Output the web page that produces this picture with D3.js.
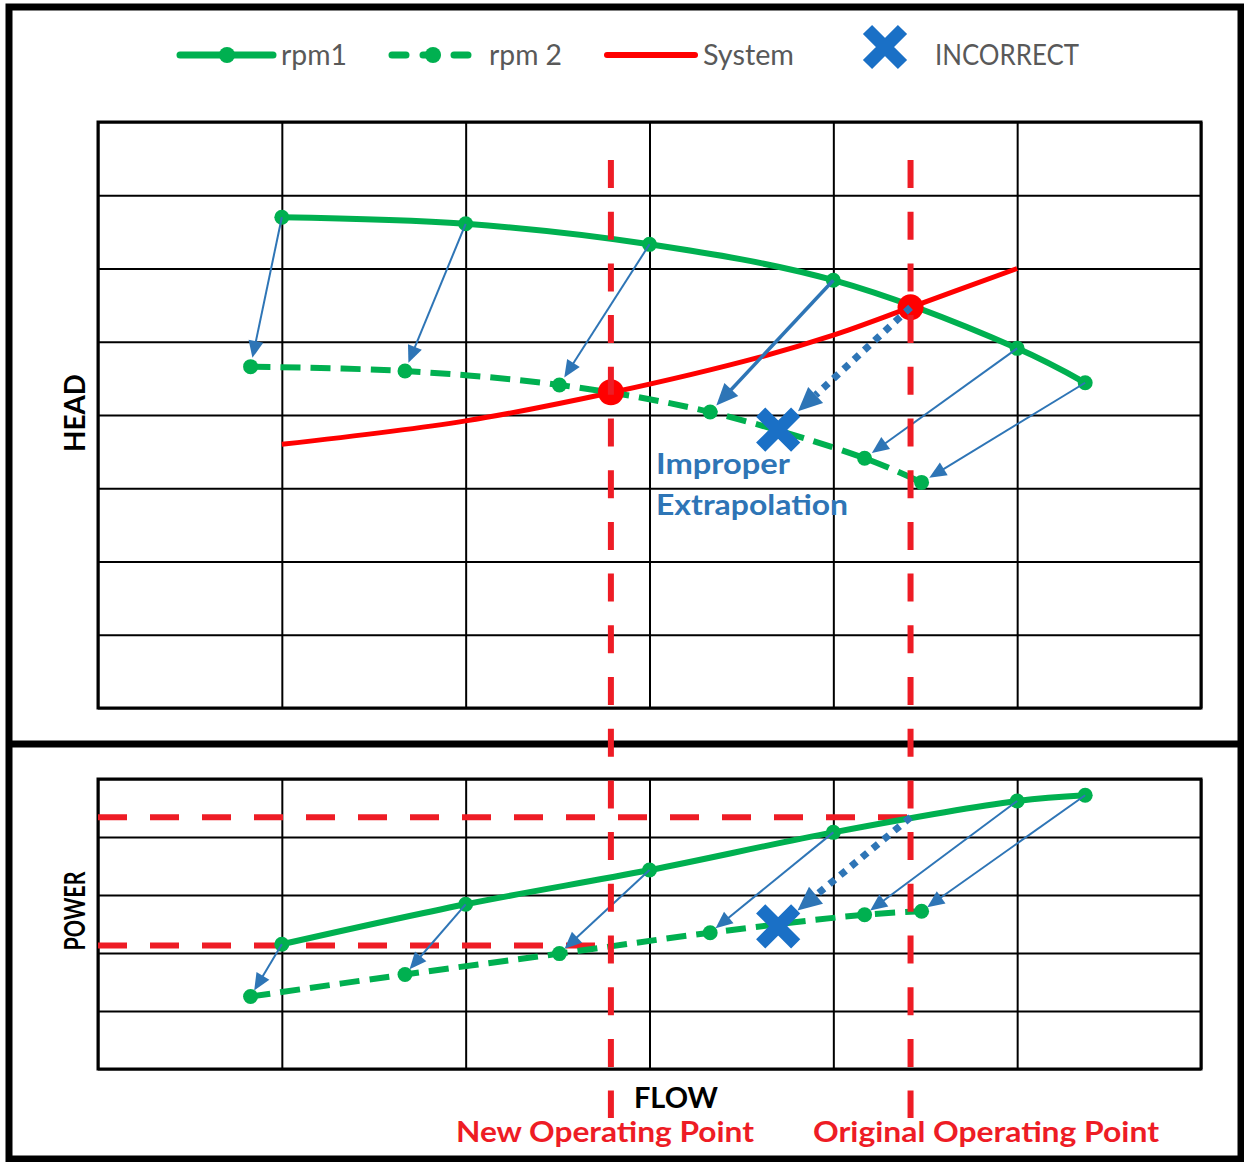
<!DOCTYPE html>
<html><head><meta charset="utf-8">
<script src="https://cdn.jsdelivr.net/npm/d3@7"></script>
<style>body{margin:0;background:#fff}</style>
</head><body><svg id="c" width="1244" height="1162"></svg>
<script>
// ---- data ----
const flowTicks = [0, 1, 2, 3, 4, 5, 6];
const headTicks = [0, 1, 2, 3, 4, 5, 6, 7, 8];
const powerTicks = [0, 1, 2, 3, 4, 5];
const rpm1Flow = [1, 2, 3, 4, 5, 5.37];
const rpm1Head = [6.70, 6.61, 6.33, 5.84, 4.91, 4.44];
const rpm1Power = [2.15, 2.84, 3.43, 4.08, 4.62, 4.72];
const rpm2Flow = [0.83, 1.67, 2.51, 3.33, 4.17, 4.48];
const rpm2Head = [4.66, 4.60, 4.41, 4.04, 3.41, 3.08];
const rpm2Power = [1.25, 1.63, 1.99, 2.35, 2.66, 2.72];
const systemFlow = [1, 2, 2.8, 3.6, 4, 4.42, 5];
const systemHead = [3.6, 3.92, 4.31, 4.79, 5.09, 5.47, 6.0];
const operatingFlow = [2.79, 4.42];      // new, original
const operatingHead = [4.31, 5.47];
const operatingPower = [2.13, 4.34];
const incorrectFlow = 3.70;
const incorrectHead = 3.80;
const incorrectPower = 2.46;
const legendLabels = ["rpm1", "rpm 2", "System", "INCORRECT"];
const axisLabels = ["HEAD", "POWER", "FLOW"];
const opLabels = ["New Operating Point", "Original Operating Point"];
const noteLabels = ["Improper", "Extrapolation"];

// ---- styles ----
const GREEN = "#00b050", RED = "#ff0000", RED2 = "#ee1c25", BLUE = "#2e75b6", XBLUE = "#1a70c6";
const FONT = "Lato, 'Open Sans', sans-serif";

const svg = d3.select("#c");
const x = d3.scaleLinear().domain([0, 6]).range([98, 1201]);
const yH = d3.scaleLinear().domain([0, 8]).range([708, 122]);
const yP = d3.scaleLinear().domain([0, 5]).range([1069, 779]);

// outer frame and divider
svg.append("rect").attr("x", 9).attr("y", 7).attr("width", 1232).attr("height", 1152)
  .attr("fill", "none").attr("stroke", "#000").attr("stroke-width", 7);
svg.append("line").attr("x1", 9).attr("x2", 1241).attr("y1", 744).attr("y2", 744)
  .attr("stroke", "#000").attr("stroke-width", 7);

function grid(yScale, ticks) {
  const [y0, y1] = yScale.range();
  const g = svg.append("g");
  g.append("g").attr("transform", `translate(0,${y0})`)
    .call(d3.axisBottom(x).tickValues(flowTicks).tickSize(-(y0 - y1)).tickFormat(""));
  g.append("g").attr("transform", `translate(${x(0)},0)`)
    .call(d3.axisLeft(yScale).tickValues(ticks).tickSize(-(x(6) - x(0))).tickFormat(""));
  g.selectAll(".domain").remove();
  g.selectAll(".tick line").attr("stroke", "#000").attr("stroke-width", 2);
  svg.append("rect").attr("x", x(0)).attr("y", y1).attr("width", x(6) - x(0)).attr("height", y0 - y1)
    .attr("fill", "none").attr("stroke", "#000").attr("stroke-width", 3);
}
grid(yH, headTicks);
grid(yP, powerTicks);

const curve = d3.curveCatmullRom.alpha(0.5);
function series(fx, fy, yScale) { return fx.map((v, i) => [x(v), yScale(fy[i])]); }
function drawLine(pts, color, w, dash) {
  svg.append("path").attr("d", d3.line().curve(curve)(pts)).attr("fill", "none")
    .attr("stroke", color).attr("stroke-width", w).attr("stroke-dasharray", dash || null);
}
function dots(pts, color, r) {
  svg.append("g").selectAll("circle").data(pts).join("circle")
    .attr("cx", d => d[0]).attr("cy", d => d[1]).attr("r", r).attr("fill", color);
}
function arrow(p0, p1, gap, o) {
  const dx = p1[0] - p0[0], dy = p1[1] - p0[1], len = Math.hypot(dx, dy);
  const ux = dx / len, uy = dy / len;
  const tip = [p1[0] - ux * gap, p1[1] - uy * gap];
  const base = [tip[0] - ux * o.L, tip[1] - uy * o.L];
  svg.append("line").attr("x1", p0[0]).attr("y1", p0[1])
    .attr("x2", o.dash ? base[0] : tip[0] - ux * o.L * 0.5).attr("y2", o.dash ? base[1] : tip[1] - uy * o.L * 0.5)
    .attr("stroke", BLUE).attr("stroke-width", o.w).attr("stroke-dasharray", o.dash || null);
  const px = -uy, py = ux;
  svg.append("path").attr("d", `M${tip[0]},${tip[1]}L${base[0] + px * o.W / 2},${base[1] + py * o.W / 2}L${base[0] - px * o.W / 2},${base[1] - py * o.W / 2}Z`)
    .attr("fill", BLUE);
}
function xMark(cx, cy) {
  const a = 17.5;
  svg.append("path").attr("d", `M${cx - a},${cy - a}L${cx + a},${cy + a}M${cx - a},${cy + a}L${cx + a},${cy - a}`)
    .attr("stroke", XBLUE).attr("stroke-width", 13).attr("fill", "none");
}

// ---- power panel reference lines ----
operatingPower.forEach((p, i) => {
  svg.append("line").attr("x1", x(0)).attr("x2", x(operatingFlow[i])).attr("y1", yP(p)).attr("y2", yP(p))
    .attr("stroke", RED2).attr("stroke-width", 6).attr("stroke-dasharray", "29 23");
});

// ---- head panel ----
const sysPts = series(systemFlow, systemHead, yH);
drawLine(sysPts, RED, 5);
const h1 = series(rpm1Flow, rpm1Head, yH), h2 = series(rpm2Flow, rpm2Head, yH);
drawLine(h1, GREEN, 6);
drawLine(h2, GREEN, 6, "20 10");
dots(h1, GREEN, 7.5);
dots(h2, GREEN, 7.5);
h1.forEach((p, i) => arrow(p, h2[i], 9, i === 3 ? { w: 3.5, L: 22, W: 19 } : { w: 2, L: 17, W: 15 }));
const opH = operatingFlow.map((f, i) => [x(f), yH(operatingHead[i])]);
dots(opH, RED, 13);
const xH = [x(incorrectFlow), yH(incorrectHead)];
arrow(opH[1], xH, 27, { w: 7, L: 24, W: 22, dash: "7 7" });
xMark(xH[0], xH[1]);

// ---- power panel ----
const p1 = series(rpm1Flow, rpm1Power, yP), p2 = series(rpm2Flow, rpm2Power, yP);
drawLine(p1, GREEN, 6);
drawLine(p2, GREEN, 6, "20 10");
dots(p1, GREEN, 7.5);
dots(p2, GREEN, 7.5);
p1.forEach((p, i) => arrow(p, p2[i], 7, { w: 2, L: 17, W: 15 }));
const xP = [x(incorrectFlow), yP(incorrectPower)];
arrow([x(operatingFlow[1]), yP(operatingPower[1])], xP, 25, { w: 7, L: 24, W: 22, dash: "7 7" });
xMark(xP[0], xP[1]);

// ---- vertical operating-point lines ----
operatingFlow.forEach(f => {
  svg.append("line").attr("x1", x(f)).attr("x2", x(f)).attr("y1", 160).attr("y2", 1118)
    .attr("stroke", RED2).attr("stroke-width", 6).attr("stroke-dasharray", "28 23.7");
});

// ---- legend ----
const LY = 55;
svg.append("line").attr("x1", 180).attr("x2", 273).attr("y1", LY).attr("y2", LY).attr("stroke", GREEN).attr("stroke-width", 7).attr("stroke-linecap", "round");
svg.append("circle").attr("cx", 227).attr("cy", LY).attr("r", 8).attr("fill", GREEN);
svg.append("line").attr("x1", 392).attr("x2", 470).attr("y1", LY).attr("y2", LY).attr("stroke", GREEN).attr("stroke-width", 7)
  .attr("stroke-linecap", "round").attr("stroke-dasharray", "14 17 14 17 14");
svg.append("circle").attr("cx", 433).attr("cy", LY).attr("r", 8).attr("fill", GREEN);
svg.append("line").attr("x1", 607).attr("x2", 695).attr("y1", LY).attr("y2", LY).attr("stroke", RED).attr("stroke-width", 6).attr("stroke-linecap", "round");
xMark(885, 47);
const legX = [281, 489, 703, 935], legW = [66, 73, 91, 144];
legendLabels.forEach((t, i) => {
  svg.append("text").attr("x", legX[i]).attr("y", 65).text(t)
    .attr("font-family", FONT).attr("font-size", 28).attr("fill", "#595959")
    .attr("textLength", legW[i]).attr("lengthAdjust", "spacingAndGlyphs");
});

// ---- axis labels ----
svg.append("text").attr("transform", "translate(85,413) rotate(-90)").attr("text-anchor", "middle")
  .attr("font-family", FONT).attr("font-weight", "bold").attr("font-size", 28).attr("fill", "#000")
  .attr("textLength", 78).attr("lengthAdjust", "spacingAndGlyphs").text(axisLabels[0]);
svg.append("text").attr("transform", "translate(85,911) rotate(-90)").attr("text-anchor", "middle")
  .attr("font-family", FONT).attr("font-weight", "bold").attr("font-size", 29).attr("fill", "#000")
  .attr("textLength", 79).attr("lengthAdjust", "spacingAndGlyphs").text(axisLabels[1]);
svg.append("text").attr("x", 676).attr("y", 1108).attr("text-anchor", "middle")
  .attr("font-family", FONT).attr("font-weight", "bold").attr("font-size", 29).attr("fill", "#000")
  .attr("textLength", 84).attr("lengthAdjust", "spacingAndGlyphs").text(axisLabels[2]);
const opX = [605, 986], opW = [298, 346];
opLabels.forEach((t, i) => {
  svg.append("text").attr("x", opX[i]).attr("y", 1142).attr("text-anchor", "middle")
    .attr("font-family", FONT).attr("font-weight", "bold").attr("font-size", 29).attr("fill", RED2)
    .attr("textLength", opW[i]).attr("lengthAdjust", "spacingAndGlyphs").text(t);
});
const noteY = [474, 515], noteW = [134, 192];
noteLabels.forEach((t, i) => {
  svg.append("text").attr("x", 656).attr("y", noteY[i])
    .attr("font-family", FONT).attr("font-weight", "bold").attr("font-size", 28).attr("fill", BLUE)
    .attr("textLength", noteW[i]).attr("lengthAdjust", "spacingAndGlyphs").text(t);
});
</script>
</body></html>
